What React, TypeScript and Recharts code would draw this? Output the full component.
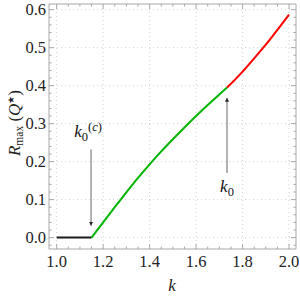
import React from "react";
import {
  LineChart,
  Line,
  XAxis,
  YAxis,
  CartesianGrid,
  ReferenceLine,
  ReferenceDot,
} from "recharts";

// branch below the threshold k0^(c)
const blackK = [1.0, 1.15];
const blackR = [0, 0];

// branch between k0^(c) and k0
const greenK = [1.15, 1.2, 1.25, 1.3, 1.35, 1.4, 1.45, 1.5, 1.55, 1.6, 1.65, 1.7, 1.733];
const greenR = [0, 0.04, 0.08, 0.119, 0.157, 0.193, 0.227, 0.259, 0.29, 0.32, 0.349, 0.377, 0.395];

// branch above k0
const redK = [1.733, 1.75, 1.8, 1.85, 1.9, 1.95, 2.0];
const redR = [0.395, 0.405, 0.437, 0.472, 0.508, 0.547, 0.587];

const xMajor = [1.0, 1.2, 1.4, 1.6, 1.8, 2.0];
const xTicks = [
  1.0, 1.05, 1.1, 1.15, 1.2, 1.25, 1.3, 1.35, 1.4, 1.45, 1.5, 1.55, 1.6, 1.65,
  1.7, 1.75, 1.8, 1.85, 1.9, 1.95, 2.0,
];
const yMajor = [0, 0.1, 0.2, 0.3, 0.4, 0.5, 0.6];
const yTicks = [
  -0.02, 0, 0.02, 0.04, 0.06, 0.08, 0.1, 0.12, 0.14, 0.16, 0.18, 0.2, 0.22, 0.24, 0.26,
  0.28, 0.3, 0.32, 0.34, 0.36, 0.38, 0.4, 0.42, 0.44, 0.46, 0.48, 0.5, 0.52, 0.54, 0.56,
  0.58, 0.6,
];

const zip = (ks: number[], rs: number[]) => ks.map((k, i) => ({ k, r: rs[i] }));
const blackData = zip(blackK, blackR);
const greenData = zip(greenK, greenR);
const redData = zip(redK, redR);

const serif = { fontFamily: "Liberation Serif" };
const FRAME = "#a8a8a8";
const X_DOMAIN = [0.967, 2.03];
const Y_DOMAIN = [-0.03, 0.615];

const isMajor = (v: number, list: number[]) => list.some((m) => Math.abs(m - v) < 1e-6);

function BottomTick({ x, y, payload }: any) {
  const major = isMajor(payload.value, xMajor);
  const len = major ? 5 : 2.5;
  return (
    <g>
      <line x1={x} x2={x} y1={y} y2={y - len} stroke={FRAME} />
      {major && (
        <text x={x} y={y + 18} textAnchor="middle" style={serif} fontSize={16.5} fill="#222">
          {payload.value.toFixed(1)}
        </text>
      )}
    </g>
  );
}

function TopTick({ x, y, payload }: any) {
  const major = isMajor(payload.value, xMajor);
  const len = major ? 5 : 2.5;
  return <line x1={x} x2={x} y1={y} y2={y + len} stroke={FRAME} />;
}

function LeftTick({ x, y, payload }: any) {
  const major = isMajor(payload.value, yMajor);
  const len = major ? 5 : 2.5;
  return (
    <g>
      <line x1={x} x2={x + len} y1={y} y2={y} stroke={FRAME} />
      {major && (
        <text x={x - 3} y={y} dy="0.34em" textAnchor="end" style={serif} fontSize={16.5} fill="#222">
          {payload.value.toFixed(1)}
        </text>
      )}
    </g>
  );
}

function RightTick({ x, y, payload }: any) {
  const major = isMajor(payload.value, yMajor);
  const len = major ? 5 : 2.5;
  return <line x1={x} x2={x - len} y1={y} y2={y} stroke={FRAME} />;
}

const K0cLabel = ({ cx, cy }: any) => (
  <text x={cx} y={cy} textAnchor="middle" style={serif} fontSize={17} fill="#111">
    <tspan fontStyle="italic">k</tspan>
    <tspan fontSize={12.5} dy={4}>0</tspan>
    <tspan fontSize={12.5} dy={-10}>(</tspan>
    <tspan fontSize={12.5} fontStyle="italic">c</tspan>
    <tspan fontSize={12.5}>)</tspan>
  </text>
);

const K0Label = ({ cx, cy }: any) => (
  <text x={cx} y={cy} textAnchor="middle" style={serif} fontSize={17} fill="#111">
    <tspan fontStyle="italic">k</tspan>
    <tspan fontSize={12.5} dy={4}>0</tspan>
  </text>
);

export default function App() {
  return (
    <div style={{ position: "relative", width: 300, height: 297, background: "#fff" }}>
      <style>{"body{margin:0}"}</style>
      <LineChart
        width={300}
        height={297}
        margin={{ top: 3, right: 3, left: 48, bottom: 47 }}
      >
        <defs>
          <marker id="arrowHead" viewBox="0 0 10 10" refX="10" refY="5" markerWidth="4" markerHeight="6" markerUnits="userSpaceOnUse" orient="auto">
            <path d="M0,0 L10,5 L0,10 Z" fill="#222" />
          </marker>
        </defs>
        <CartesianGrid
          xAxisId="b"
          yAxisId="l"
          stroke="#d4d4d4"
          strokeDasharray="1 3"
          horizontalValues={yMajor}
          verticalValues={xMajor}
        />
        <XAxis
          xAxisId="b"
          dataKey="k"
          type="number"
          domain={X_DOMAIN}
          ticks={xTicks}
          height={1}
          tickSize={0}
          tickMargin={0}
          stroke={FRAME}
          tick={<BottomTick />}
          interval={0}
          allowDataOverflow
        />
        <XAxis
          xAxisId="t"
          orientation="top"
          dataKey="k"
          type="number"
          domain={X_DOMAIN}
          ticks={xTicks}
          height={1}
          tickSize={0}
          tickMargin={0}
          stroke={FRAME}
          tick={<TopTick />}
          interval={0}
          allowDataOverflow
        />
        <YAxis
          yAxisId="l"
          type="number"
          domain={Y_DOMAIN}
          ticks={yTicks}
          width={1}
          tickSize={0}
          tickMargin={0}
          stroke={FRAME}
          tick={<LeftTick />}
          interval={0}
          allowDataOverflow
        />
        <YAxis
          yAxisId="r"
          orientation="right"
          type="number"
          domain={Y_DOMAIN}
          ticks={yTicks}
          width={1}
          tickSize={0}
          tickMargin={0}
          stroke={FRAME}
          tick={<RightTick />}
          interval={0}
          allowDataOverflow
        />
        <Line xAxisId="b" yAxisId="l" data={blackData} dataKey="r" stroke="#1a1a1a" strokeWidth={2} dot={false} isAnimationActive={false} />
        <Line xAxisId="b" yAxisId="l" data={greenData} dataKey="r" type="monotone" stroke="#00b400" strokeWidth={2} dot={false} isAnimationActive={false} />
        <Line xAxisId="b" yAxisId="l" data={redData} dataKey="r" type="monotone" stroke="#ff0000" strokeWidth={2} dot={false} isAnimationActive={false} />
        <ReferenceLine
          xAxisId="b"
          yAxisId="l"
          segment={[{ x: 1.148, y: 0.232 }, { x: 1.148, y: 0.031 }]}
          stroke="#666"
          strokeWidth={1}
          markerEnd="url(#arrowHead)"
        />
        <ReferenceLine
          xAxisId="b"
          yAxisId="l"
          segment={[{ x: 1.733, y: 0.17 }, { x: 1.733, y: 0.368 }]}
          stroke="#666"
          strokeWidth={1}
          markerEnd="url(#arrowHead)"
        />
        <ReferenceDot xAxisId="b" yAxisId="l" x={1.135} y={0.264} r={0} shape={K0cLabel} />
        <ReferenceDot xAxisId="b" yAxisId="l" x={1.733} y={0.12} r={0} shape={K0Label} />
      </LineChart>
      <svg width={300} height={297} style={{ position: "absolute", left: 0, top: 0, pointerEvents: "none" }}>
        <text x={172} y={291} textAnchor="middle" style={serif} fontSize={17} fontStyle="italic" fill="#222">
          k
        </text>
        <text
          transform="translate(20,123) rotate(-90)"
          textAnchor="middle"
          style={serif}
          fontSize={17}
          fill="#222"
        >
          <tspan fontStyle="italic">R</tspan>
          <tspan fontSize={11.5} dy={3}>max</tspan>
          <tspan dy={-3}> (</tspan>
          <tspan fontStyle="italic">Q</tspan>
          <tspan fontSize={9} dy={-6}>★</tspan>
          <tspan dy={6}>)</tspan>
        </text>
      </svg>
    </div>
  );
}
